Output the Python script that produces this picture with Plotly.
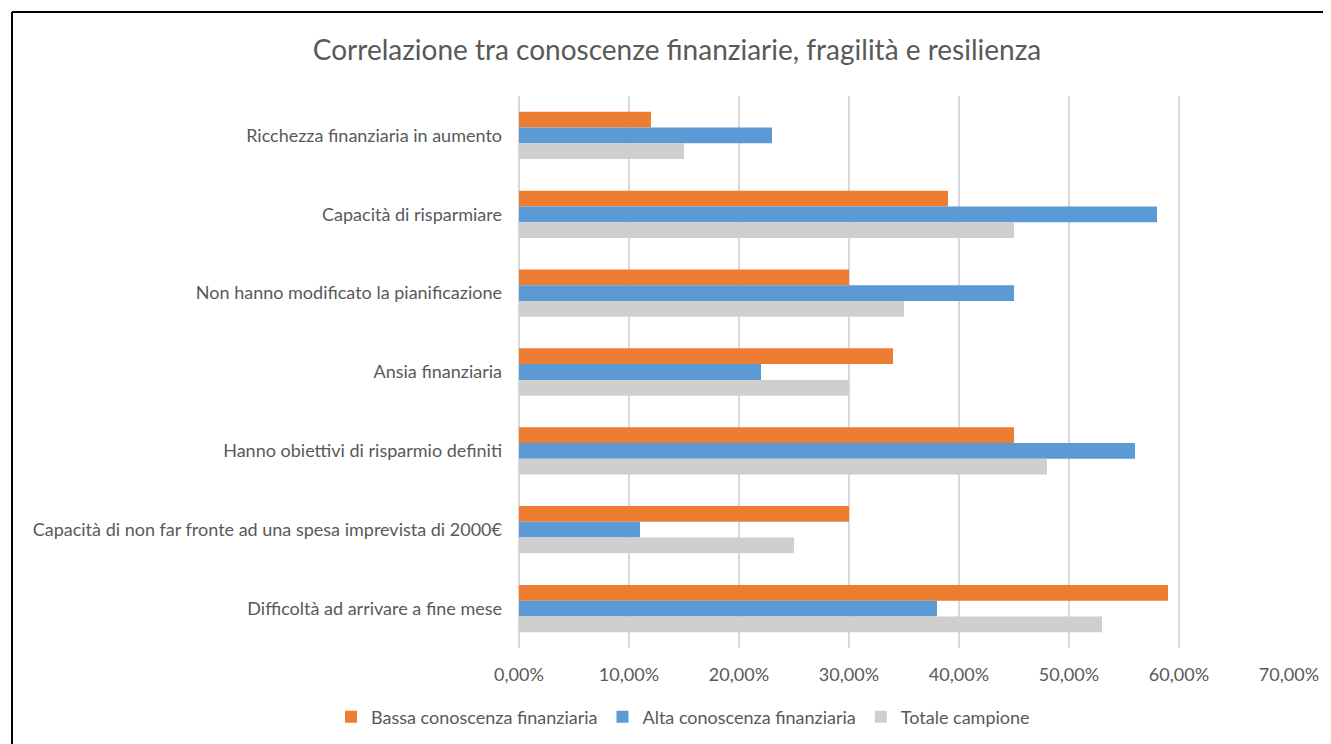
import plotly.graph_objects as go

categories = [
    "Ricchezza finanziaria in aumento",
    "Capacità di risparmiare",
    "Non hanno modificato la pianificazione",
    "Ansia finanziaria",
    "Hanno obiettivi di risparmio definiti",
    "Capacità di non far fronte ad una spesa imprevista di 2000€",
    "Difficoltà ad arrivare a fine mese",
]
bassa = [0.12, 0.39, 0.30, 0.34, 0.45, 0.30, 0.59]
alta = [0.23, 0.58, 0.45, 0.22, 0.56, 0.11, 0.38]
totale = [0.15, 0.45, 0.35, 0.30, 0.48, 0.25, 0.53]
series_names = ["Bassa conoscenza finanziaria", "Alta conoscenza finanziaria", "Totale campione"]
colors = ["#ED7D31", "#5B9BD5", "#D0CECE"]
xticks = [0, 0.1, 0.2, 0.3, 0.4, 0.5, 0.6, 0.7]

font_family = "Lato, 'Open Sans', sans-serif"
text_color = "#595959"

fig = go.Figure()
for name, vals, col in zip(series_names, [bassa, alta, totale], colors):
    fig.add_trace(go.Bar(
        y=categories, x=vals, name=name, orientation="h",
        marker=dict(color=col, line=dict(width=0)),
    ))

OFF = 8  # page body margin
W, H = 1331 - OFF, 744 - OFF
L, Rx, Tp, Bt = 519 - OFF, 1289 - OFF, 96 - OFF, 648 - OFF
pw, ph = Rx - L, Bt - Tp

def px(x):
    return (x - OFF - L) / pw

def py(y):
    return (Bt - (y - OFF)) / ph

fig.update_layout(
    width=W, height=H,
    margin=dict(l=L, r=W - Rx, t=Tp, b=H - Bt, autoexpand=False),
    paper_bgcolor="white", plot_bgcolor="white",
    barmode="group", bargap=0.4, bargroupgap=0,
    separators=",.",
    font=dict(family=font_family, size=18, color=text_color),
    title=dict(
        text="Correlazione tra conoscenze finanziarie, fragilità e resilienza",
        x=(677 - OFF) / W, xanchor="center", xref="container",
        y=1 - (50 - OFF) / H, yanchor="middle", yref="container",
        font=dict(size=28, color=text_color, family=font_family),
    ),
    xaxis=dict(
        range=[0, 0.7], tickvals=xticks, tickformat=".2%",
        showgrid=True, gridcolor="#D9D9D9", gridwidth=2,
        zeroline=True, zerolinecolor="#D9D9D9", zerolinewidth=2,
        showline=False, ticks="", ticklabelstandoff=14,
        tickfont=dict(size=18, color=text_color),
    ),
    yaxis=dict(
        autorange="reversed", showgrid=False, zeroline=False,
        showline=False, ticks="", ticklabelstandoff=16,
        tickfont=dict(size=18, color=text_color),
    ),
    legend=dict(
        orientation="h", x=px(683), xanchor="center",
        y=py(717), yanchor="middle",
        font=dict(size=18, color=text_color),
        itemwidth=30, traceorder="normal",
    ),
    shapes=[
        dict(type="line", xref="paper", yref="paper",
             x0=px(12), x1=px(1340), y0=py(12), y1=py(12),
             line=dict(color="black", width=2)),
        dict(type="line", xref="paper", yref="paper",
             x0=px(12), x1=px(12), y0=py(12), y1=py(750),
             line=dict(color="black", width=2)),
    ],
)

fig.write_html("out.html")
